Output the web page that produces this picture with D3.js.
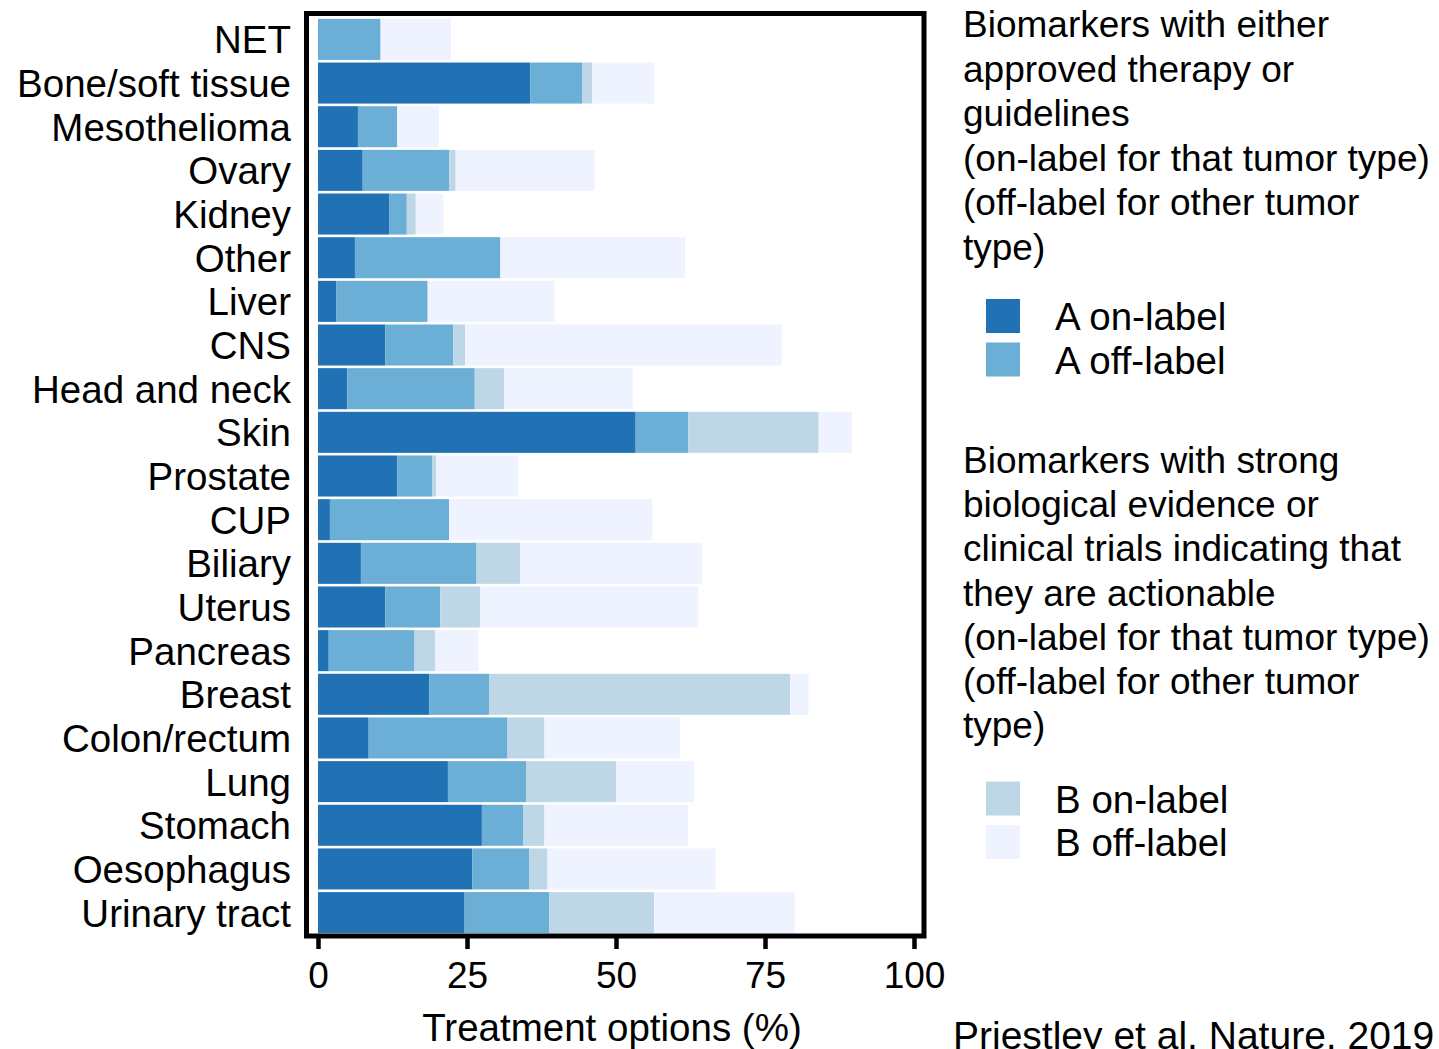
<!DOCTYPE html>
<html>
<head>
<meta charset="utf-8">
<script src="https://cdn.jsdelivr.net/npm/d3@7"></script>
<style>
  html, body { margin: 0; padding: 0; background: #fff; }
  svg { display: block; }
  text { font-family: "Liberation Sans", Arial, Helvetica, sans-serif; fill: #000; }
</style>
</head>
<body>
<svg id="chart" width="1439" height="1049"></svg>
<script>
// ---- Data (top to bottom) ----
const categories = ["NET", "Bone/soft tissue", "Mesothelioma", "Ovary", "Kidney", "Other", "Liver", "CNS",
  "Head and neck", "Skin", "Prostate", "CUP", "Biliary", "Uterus", "Pancreas", "Breast", "Colon/rectum",
  "Lung", "Stomach", "Oesophagus", "Urinary tract"];
const aOnLabel  = [0, 35.6, 6.7, 7.5, 12.0, 6.2, 3.1, 11.3, 4.9, 53.3, 13.3, 2.0, 7.2, 11.3, 1.8, 18.7, 8.5, 21.8, 27.5, 25.9, 24.6];
const aOffLabel = [10.5, 8.7, 6.6, 14.5, 2.9, 24.4, 15.3, 11.4, 21.4, 8.8, 5.9, 20.0, 19.4, 9.2, 14.4, 10.0, 23.3, 13.1, 6.9, 9.5, 14.2];
const bOnLabel  = [0, 1.7, 0, 1.1, 1.5, 0, 0, 2.0, 4.9, 21.9, 0.6, 0, 7.3, 6.7, 3.5, 50.5, 6.2, 15.1, 3.6, 3.1, 17.6];
const bOffLabel = [11.8, 10.4, 7.0, 23.3, 4.6, 31.0, 21.3, 53.1, 21.6, 5.6, 13.8, 34.1, 30.5, 36.6, 7.2, 3.1, 22.7, 13.1, 24.1, 28.2, 23.6];
const seriesKeys = ["A on-label", "A off-label", "B on-label", "B off-label"];
const seriesColors = ["#2171b5", "#6baed6", "#bdd7e7", "#eff3ff"];
const xTicks = [0, 25, 50, 75, 100];
const xTitle = "Treatment options (%)";
const legendTextA = ["Biomarkers with either", "approved therapy or", "guidelines",
  "(on-label for that tumor type)", "(off-label for other tumor", "type)"];
const legendTextB = ["Biomarkers with strong", "biological evidence or", "clinical trials indicating that",
  "they are actionable", "(on-label for that tumor type)", "(off-label for other tumor", "type)"];
const citation = "Priestley et al. Nature, 2019";

// ---- Build table ----
const seriesArrays = [aOnLabel, aOffLabel, bOnLabel, bOffLabel];
const table = categories.map((c, i) => {
  const row = { category: c };
  seriesKeys.forEach((k, j) => row[k] = seriesArrays[j][i]);
  return row;
});
const stacked = d3.stack().keys(seriesKeys)(table);

const svg = d3.select("#chart");

const x = d3.scaleLinear().domain([0, 100]).range([318, 914]);
const y = d3.scaleBand().domain(categories).range([18, 934]).paddingInner(0.06).paddingOuter(0.02);
const color = d3.scaleOrdinal().domain(seriesKeys).range(seriesColors);

// bars
svg.append("g").selectAll("g").data(stacked).join("g")
  .attr("fill", d => color(d.key))
  .selectAll("rect").data(d => d).join("rect")
  .attr("x", d => x(d[0]))
  .attr("y", d => y(d.data.category))
  .attr("width", d => Math.max(0, x(d[1]) - x(d[0])))
  .attr("height", y.bandwidth());

// frame
svg.append("rect")
  .attr("x", 306.5).attr("y", 13.5)
  .attr("width", 924 - 306.5).attr("height", 936 - 13.5)
  .attr("fill", "none").attr("stroke", "#000").attr("stroke-width", 5);

// category labels
svg.append("g").selectAll("text").data(categories).join("text")
  .attr("x", 291)
  .attr("y", d => y(d) + y.bandwidth() / 2 + 14)
  .attr("text-anchor", "end")
  .attr("font-size", 38.5)
  .text(d => d);

// x axis
const xAxis = d3.axisBottom(x).tickValues(xTicks).tickSize(13).tickPadding(13).tickFormat(d3.format("d"));
const gx = svg.append("g").attr("transform", "translate(0,936)").call(xAxis);
gx.select(".domain").remove();
gx.selectAll(".tick line").attr("stroke", "#000").attr("stroke-width", 4.5);
gx.selectAll(".tick text").attr("font-size", 37).attr("fill", "#000")
  .attr("font-family", "'Liberation Sans', Arial, sans-serif");

svg.append("text")
  .attr("x", 612).attr("y", 1041)
  .attr("text-anchor", "middle").attr("font-size", 38.5)
  .text(xTitle);

// legend paragraphs
function para(lines, x0, y0, lh) {
  const t = svg.append("text").attr("font-size", 37);
  lines.forEach((l, i) => t.append("tspan").attr("x", x0).attr("y", y0 + i * lh).text(l));
}
para(legendTextA, 963, 37, 44.5);
para(legendTextB, 963, 473, 44.2);

// legend swatches
const legendItems = [
  { key: seriesKeys[0], y: 299 }, { key: seriesKeys[1], y: 342.5 },
  { key: seriesKeys[2], y: 781.5 }, { key: seriesKeys[3], y: 825 }
];
const lg = svg.append("g");
lg.selectAll("rect").data(legendItems).join("rect")
  .attr("x", 986).attr("y", d => d.y).attr("width", 34).attr("height", 34)
  .attr("fill", d => color(d.key));
lg.selectAll("text").data(legendItems).join("text")
  .attr("x", 1055).attr("y", d => d.y + 31)
  .attr("font-size", 38.5)
  .text(d => d.key);

// citation
svg.append("text").attr("x", 953).attr("y", 1049).attr("font-size", 39).text(citation);
</script>
</body>
</html>
